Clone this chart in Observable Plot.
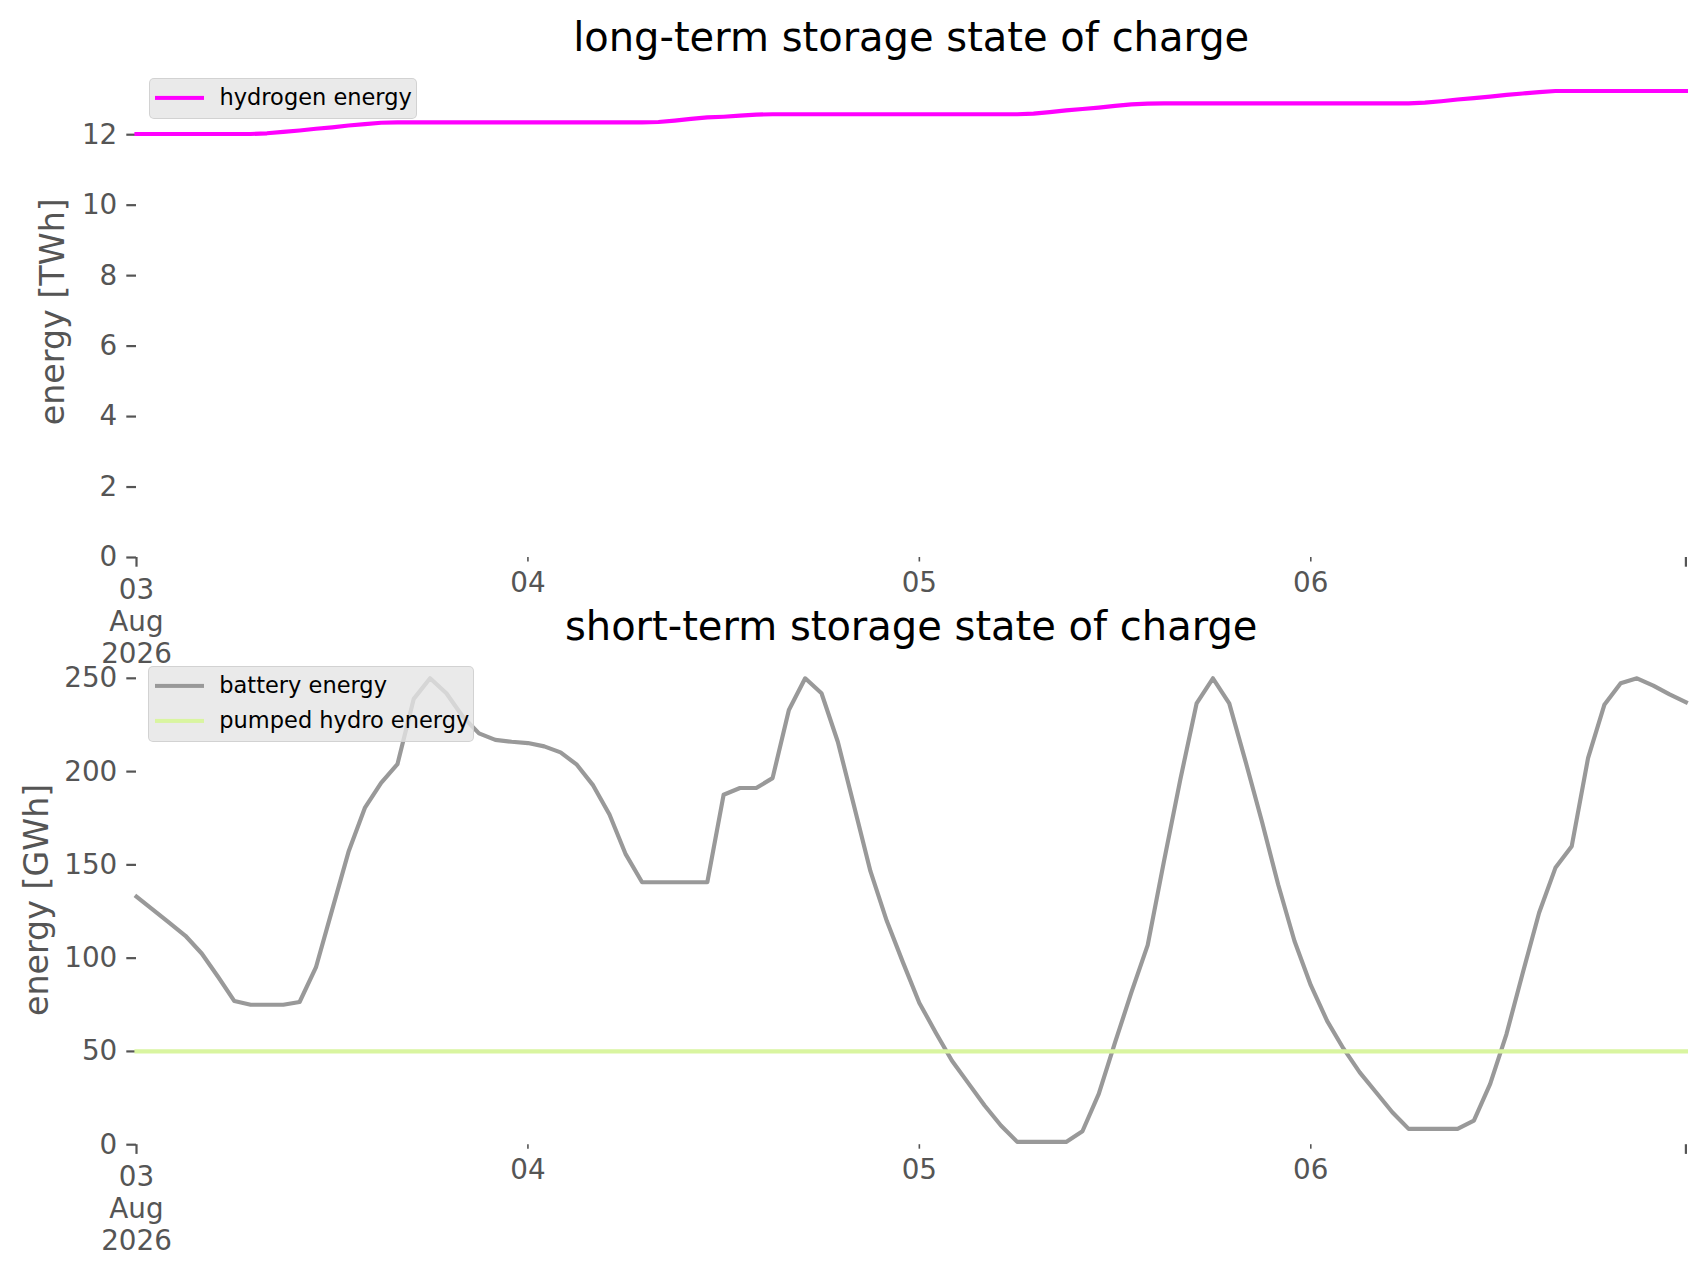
<!DOCTYPE html>
<html>
<head>
<meta charset="utf-8">
<script src="https://cdn.jsdelivr.net/npm/d3@7"></script>
<script src="https://cdn.jsdelivr.net/npm/@observablehq/plot@0.6"></script>
<style>
  body { margin: 0; background: #ffffff; }
  #wrap { position: relative; width: 1706px; height: 1277px; overflow: hidden; font-family: "DejaVu Sans", sans-serif; }
  .chart { position: absolute; left: 0; }
  .legend { position: absolute; box-sizing: border-box; background: rgba(229,229,229,0.8); border: 1.5px solid rgba(204,204,204,0.8); border-radius: 5px; }
  .sw { position: absolute; height: 4.2px; transform: translateY(-50%); }
  .lt { position: absolute; font-size: 22.5px; line-height: 1; color: #000; transform: translateY(-52%); white-space: nowrap; }
</style>
</head>
<body>
<div id="wrap"></div>
<script>
// ---------------- data ----------------
const startTime = "2026-08-03T00:00:00Z"; // hourly snapshots, 96 steps

const hydrogenEnergy = [ // TWh
  12.02, 12.02, 12.02, 12.02, 12.02, 12.02, 12.02, 12.02, 12.04, 12.08, 12.12, 12.17,
  12.21, 12.26, 12.30, 12.34, 12.35, 12.35, 12.35, 12.35, 12.35, 12.35, 12.35, 12.35,
  12.35, 12.35, 12.35, 12.35, 12.35, 12.35, 12.35, 12.35, 12.36, 12.40, 12.45, 12.49,
  12.51, 12.54, 12.57, 12.58, 12.58, 12.58, 12.58, 12.58, 12.58, 12.58, 12.58, 12.58,
  12.58, 12.58, 12.58, 12.58, 12.58, 12.58, 12.58, 12.60, 12.64, 12.69, 12.73, 12.77,
  12.82, 12.86, 12.88, 12.89, 12.89, 12.89, 12.89, 12.89, 12.89, 12.89, 12.89, 12.89,
  12.89, 12.89, 12.89, 12.89, 12.89, 12.89, 12.89, 12.91, 12.95, 13.00, 13.04, 13.08,
  13.13, 13.17, 13.21, 13.24, 13.24, 13.24, 13.24, 13.24, 13.24, 13.24, 13.24, 13.24
];

const batteryEnergy = [ // GWh
  133, 126, 119, 112, 102.5, 90, 77, 75, 75, 75, 76.5, 95,
  126, 157, 180.5, 194, 204, 239, 250, 242, 229.5, 220.5, 217, 216,
  215.3, 213.5, 210.3, 203.7, 192.6, 177, 155.6, 140.7, 140.7, 140.7, 140.7, 140.7,
  187.6, 191.2, 191.2, 196.5, 233, 250, 242, 216, 181.4, 146.6, 120, 97.6,
  76, 60.2, 45, 33, 21, 10.3, 1.5, 1.5, 1.5, 1.5, 7.2, 27.2,
  54.8, 81.6, 107, 152, 195.7, 236.6, 250, 236.6, 205.5, 173.4, 139.5, 109.2,
  85.5, 66.4, 51.6, 38.8, 28.1, 17.4, 8.5, 8.5, 8.5, 8.5, 12.9, 32.6,
  59.3, 92.2, 124.3, 148.4, 160, 207.2, 235.8, 247.3, 250, 246.1, 241.4, 237.2
];

const pumpedHydroEnergy = [ // GWh
  50, 50, 50, 50, 50, 50, 50, 50, 50, 50, 50, 50, 50, 50, 50, 50, 50, 50, 50, 50, 50, 50, 50, 50,
  50, 50, 50, 50, 50, 50, 50, 50, 50, 50, 50, 50, 50, 50, 50, 50, 50, 50, 50, 50, 50, 50, 50, 50,
  50, 50, 50, 50, 50, 50, 50, 50, 50, 50, 50, 50, 50, 50, 50, 50, 50, 50, 50, 50, 50, 50, 50, 50,
  50, 50, 50, 50, 50, 50, 50, 50, 50, 50, 50, 50, 50, 50, 50, 50, 50, 50, 50, 50, 50, 50, 50, 50
];

const majorTicks = ["2026-08-03T00:00:00Z", "2026-08-06T23:00:00Z"];
const majorTickLabels = ["03\nAug\n2026", ""];
const minorTicks = ["2026-08-04T00:00:00Z", "2026-08-05T00:00:00Z", "2026-08-06T00:00:00Z"];
const minorTickLabels = ["04", "05", "06"];

const yTicksTop = [0, 2, 4, 6, 8, 10, 12];
const yTicksBottom = [0, 50, 100, 150, 200, 250];

const titles = ["long-term storage state of charge", "short-term storage state of charge"];
const yLabels = ["energy [TWh]", "energy [GWh]"];
const seriesNames = ["hydrogen energy", "battery energy", "pumped hydro energy"];
const seriesColors = ["#ff00ff", "#999999", "#d9f5a0"];

// ---------------- build ----------------
const t0 = new Date(startTime).getTime();
const times = hydrogenEnergy.map((_, i) => new Date(t0 + i * 3600e3));
const toRows = (vals, name) => vals.map((v, i) => ({ t: times[i], v, name }));

const majorDates = majorTicks.map(d => new Date(d));
const minorDates = minorTicks.map(d => new Date(d));
const majorLabel = new Map(majorDates.map((d, i) => [+d, majorTickLabels[i]]));
const minorLabel = new Map(minorDates.map((d, i) => [+d, minorTickLabels[i]]));

const FONT = "DejaVu Sans";
const TICK = "#555555";

function panel({ title, ylabel, ylabelDx, series, yDomain, yTicks, height, marginTop, marginBottom }) {
  return Plot.plot({
    width: 1706,
    height,
    marginLeft: 136,
    marginRight: 20.6,
    marginTop,
    marginBottom,
    style: { background: "transparent", overflow: "visible", fontFamily: FONT },
    x: { type: "utc", domain: [times[0], times[times.length - 1]] },
    y: { domain: yDomain },
    marks: [
      Plot.axisY({ ticks: yTicks, tickSize: 9.7, tickPadding: 9.5, fontSize: 27.8, color: TICK, strokeWidth: 2.2, label: null, tickFormat: d => String(d) }),
      Plot.axisX({ ticks: minorDates, tickSize: 4.5, tickPadding: 10, fontSize: 27.8, color: TICK, strokeWidth: 1.6, label: null, tickFormat: d => minorLabel.get(+d) }),
      Plot.axisX({ ticks: majorDates, tickSize: 9.7, tickPadding: 9.5, fontSize: 27.8, lineHeight: 1.14, color: TICK, strokeWidth: 2.2, label: null, tickFormat: d => majorLabel.get(+d) }),
      ...series.map(s => Plot.line(toRows(s.values, s.name), { x: "t", y: "v", stroke: s.color, strokeWidth: 4.17, strokeLinejoin: "round", strokeLinecap: "square" })),
      Plot.text([title], { frameAnchor: "top", dy: -15, lineAnchor: "bottom", fontSize: 40, fill: "#000000" }),
      Plot.text([ylabel], { frameAnchor: "left", dx: ylabelDx, rotate: -90, textAnchor: "middle", lineAnchor: "middle", fontSize: 33.3, fill: TICK })
    ]
  });
}

const wrap = document.getElementById("wrap");

function place(svg, top) {
  svg.classList.add("chart");
  svg.style.position = "absolute";
  svg.style.top = top + "px";
  svg.style.left = "0px";
  svg.style.maxWidth = "none";
  wrap.appendChild(svg);
}

const top1 = panel({
  title: titles[0], ylabel: yLabels[0], ylabelDx: -83,
  series: [{ values: hydrogenEnergy, name: seriesNames[0], color: seriesColors[0] }],
  yDomain: [0, 13.95], yTicks: yTicksTop,
  height: 680, marginTop: 65.5, marginBottom: 123
});
place(top1, 0);

const bottom1 = panel({
  title: titles[1], ylabel: yLabels[1], ylabelDx: -99.3,
  series: [
    { values: batteryEnergy, name: seriesNames[1], color: seriesColors[1] },
    { values: pumpedHydroEnergy, name: seriesNames[2], color: seriesColors[2] }
  ],
  yDomain: [0, 262.5], yTicks: yTicksBottom,
  height: 687, marginTop: 64.5, marginBottom: 132.8
});
place(bottom1, 590);

function legend(left, top, width, items) {
  const box = document.createElement("div");
  box.className = "legend";
  box.style.left = left + "px";
  box.style.top = top + "px";
  box.style.width = width + "px";
  box.style.height = (6 + items.length * 35) + "px";
  items.forEach((it, i) => {
    const cy = 18.5 + i * 35;
    const sw = document.createElement("div");
    sw.className = "sw";
    sw.style.left = "5.5px";
    sw.style.width = "49px";
    sw.style.top = cy + "px";
    sw.style.background = it.color;
    box.appendChild(sw);
    const tx = document.createElement("div");
    tx.className = "lt";
    tx.style.left = "70px";
    tx.style.top = cy + "px";
    tx.textContent = it.label;
    box.appendChild(tx);
  });
  wrap.appendChild(box);
}

legend(148.5, 78.4, 268.5, [{ label: seriesNames[0], color: seriesColors[0] }]);
legend(148.3, 666, 326, [
  { label: seriesNames[1], color: seriesColors[1] },
  { label: seriesNames[2], color: seriesColors[2] }
]);
</script>
</body>
</html>
